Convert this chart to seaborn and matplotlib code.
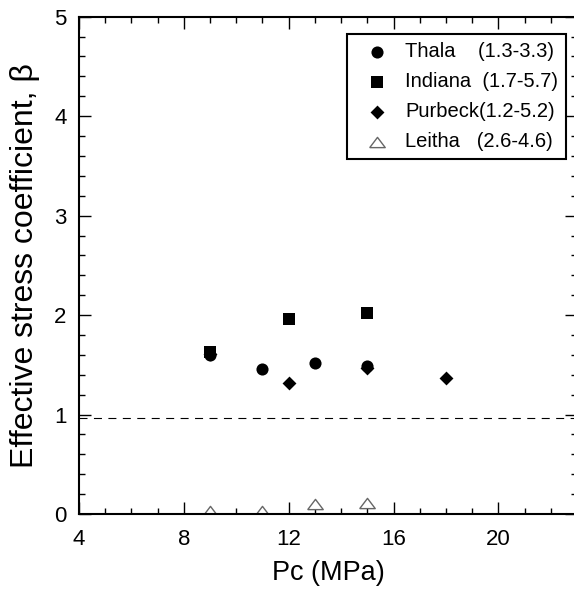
import numpy as np
import matplotlib
matplotlib.use("Agg")
import matplotlib.pyplot as plt
from matplotlib.ticker import MultipleLocator
import seaborn as sns

# ------------------------------------------------------------------
# DATA
# ------------------------------------------------------------------
thala_x = [9, 11, 13, 15]
thala_y = [1.60, 1.46, 1.52, 1.49]

indiana_x = [9, 12, 15]
indiana_y = [1.63, 1.96, 2.02]

purbeck_x = [9, 12, 15, 18]
purbeck_y = [1.61, 1.32, 1.47, 1.37]

leitha_x = [9, 11, 13, 15]
leitha_y = [0.03, 0.03, 0.10, 0.11]

legend_labels = ["Thala    (1.3-3.3)", "Indiana  (1.7-5.7)",
                 "Purbeck(1.2-5.2)", "Leitha   (2.6-4.6)"]
beta_ref = 0.97

# ------------------------------------------------------------------
# STYLE
# ------------------------------------------------------------------
sns.set_theme(style="ticks")
plt.rcParams["font.family"] = ["Liberation Sans", "DejaVu Sans"]
plt.rcParams["axes.linewidth"] = 1.5
plt.rcParams["text.color"] = "black"
plt.rcParams["axes.labelcolor"] = "black"
plt.rcParams["xtick.color"] = "black"
plt.rcParams["ytick.color"] = "black"

fig = plt.figure(figsize=(5.74, 5.90), dpi=100)
ax = fig.add_axes([79 / 574, 76 / 590, 498 / 574, 497.3 / 590])

# segitiga lebih lebar dari tingginya
tri = [(-1, -0.66), (1, -0.66), (0, 0.66), (-1, -0.66)]

sns.scatterplot(x=leitha_x, y=leitha_y, marker=tri, s=125, color="white",
                edgecolor="#666666", linewidth=1.0, label=legend_labels[3], ax=ax)
sns.scatterplot(x=thala_x, y=thala_y, marker="o", s=76, color="black",
                linewidth=0, label=legend_labels[0], ax=ax)
sns.scatterplot(x=purbeck_x, y=purbeck_y, marker="D", s=50, color="black",
                linewidth=0, label=legend_labels[2], ax=ax)
sns.scatterplot(x=indiana_x, y=indiana_y, marker="s", s=82, color="black",
                linewidth=0, label=legend_labels[1], ax=ax)

ax.axhline(beta_ref, color="black", linewidth=0.8, linestyle=(0, (7.2, 5.8)))

ax.set_xlim(4, 23)
ax.set_ylim(0, 5)
ax.xaxis.set_major_locator(MultipleLocator(4))
ax.xaxis.set_minor_locator(MultipleLocator(1))
ax.yaxis.set_major_locator(MultipleLocator(1))
ax.yaxis.set_minor_locator(MultipleLocator(0.2))
ax.tick_params(which="both", direction="in", top=True, right=True,
               color="black", width=1.0, labelsize=16)
ax.tick_params(which="major", length=8.5)
ax.tick_params(which="minor", length=4.3)
ax.tick_params(axis="x", which="major", pad=11)
ax.tick_params(axis="y", which="major", pad=9)
for sp in ax.spines.values():
    sp.set_color("black")
    sp.set_visible(True)

ax.set_xlabel("Pc (MPa)", fontsize=19.5, labelpad=7)
ax.set_ylabel("Effective stress coefficient, \u03b2", fontsize=23, labelpad=10)

handles, labels = ax.get_legend_handles_labels()
order = [labels.index(l) for l in legend_labels]
leg = ax.legend([handles[i] for i in order], [labels[i] for i in order],
                loc="upper right", bbox_to_anchor=(0.978, 0.965), borderaxespad=0,
                fontsize=14.5, frameon=True, fancybox=False, framealpha=1,
                edgecolor="black", labelspacing=0.55, handlelength=2.2,
                handletextpad=0.3, borderpad=0.4)
leg.get_frame().set_linewidth(1.5)

fig.savefig("out.png", dpi=100)
